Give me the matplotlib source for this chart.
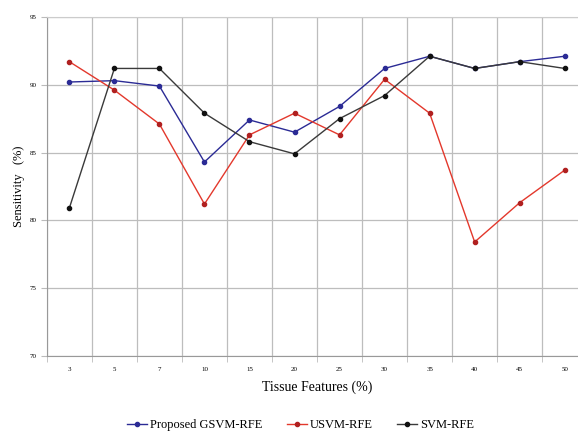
import numpy as np
import matplotlib.pyplot as plt

plt.rcParams.update({'font.family': 'Liberation Serif'})

features = ['3', '5', '7', '10', '15', '20', '25', '30', '35', '40', '45', '50']
gsvm_rfe = [90.2, 90.3, 89.9, 84.3, 87.4, 86.5, 88.4, 91.2, 92.1, 91.2, 91.7, 92.1]
usvm_rfe = [91.7, 89.6, 87.1, 81.2, 86.3, 87.9, 86.3, 90.4, 87.9, 78.4, 81.3, 83.7]
svm_rfe = [80.9, 91.2, 91.2, 87.9, 85.8, 84.9, 87.5, 89.2, 92.1, 91.2, 91.7, 91.2]

fig = plt.figure(figsize=(5.78, 4.34), dpi=100)
ax = fig.add_axes([0.081, 0.18, 0.935, 0.781])

x = np.arange(len(features))
ax.plot(x, gsvm_rfe, color='#2b2b95', lw=1.0, marker='o', ms=3,
        label='Proposed GSVM-RFE')
ax.plot(x, usvm_rfe, color='#e3382c', lw=1.0, marker='o', ms=3,
        mfc='#b02020', mec='#b02020', label='USVM-RFE')
ax.plot(x, svm_rfe, color='#3a3a3a', lw=1.0, marker='o', ms=3,
        mfc='#111111', mec='#111111', label='SVM-RFE')

ax.set_xlim(-0.5, len(features) - 0.5)
ax.set_ylim(70, 95)
ax.set_xticks(x)
ax.set_xticklabels(features)
ax.set_xticks(np.arange(len(features) + 1) - 0.5, minor=True)
ax.set_yticks(np.arange(70, 96, 5))
ax.tick_params(axis='both', labelsize=5, length=0)
ax.tick_params(axis='x', which='minor', length=4, color='#bbbbbb')
ax.tick_params(axis='y', which='major', length=4, color='#bbbbbb')
ax.tick_params(axis='x', pad=8)

ax.grid(axis='y', which='major', color='#bdbdbd', lw=0.9)
ax.grid(axis='x', which='minor', color='#bdbdbd', lw=0.9)
ax.set_axisbelow(True)
ax.spines['right'].set_visible(False)
ax.spines['top'].set_color('#cccccc')
ax.spines['left'].set_color('#999999')
ax.spines['bottom'].set_color('#999999')

ax.set_xlabel('Tissue Features (%)', fontsize=10, labelpad=6)
ax.set_ylabel('Sensitivity   (%)', fontsize=9, labelpad=3)

fig.legend(*ax.get_legend_handles_labels(), loc='center',
           bbox_to_anchor=(0.52, 0.02), ncol=3, frameon=False, fontsize=9,
           handlelength=1.6, columnspacing=2.0, handletextpad=0.2)

fig.savefig('out.png', dpi=100)
